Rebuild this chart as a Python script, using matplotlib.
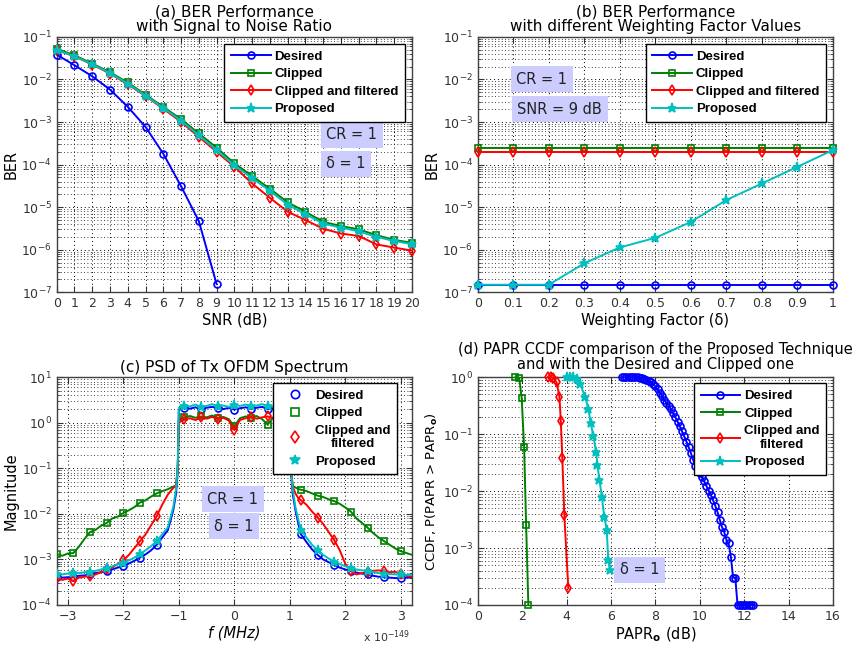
import numpy as np
import matplotlib
matplotlib.use("Agg")
import matplotlib.pyplot as plt
from matplotlib.lines import Line2D
from matplotlib.ticker import LogLocator, NullFormatter

plt.rcParams['font.family'] = ['DejaVu Sans']
plt.rcParams['mathtext.fontset'] = 'dejavusans'

# ---------------- data ----------------
# (a) BER vs SNR
snr = list(range(0, 21))
ber_desired = [3.85e-2, 2.16e-2, 1.19e-2, 5.8e-3, 2.28e-3, 7.7e-4, 1.8e-4, 3.1e-5, 4.7e-6, 1.56e-7]
ber_clipped = [5.3e-2, 3.7e-2, 2.37e-2, 1.48e-2, 8.5e-3, 4.4e-3, 2.27e-3, 1.17e-3, 5.4e-4, 2.5e-4,
               1.07e-4, 5.4e-5, 2.7e-5, 1.3e-5, 7.8e-6, 4.5e-6, 3.6e-6, 3.0e-6, 2.2e-6, 1.7e-6, 1.45e-6]
ber_cf = [4.9e-2, 3.5e-2, 2.25e-2, 1.38e-2, 7.7e-3, 4.1e-3, 2.05e-3, 1.01e-3, 4.5e-4, 2.0e-4,
          8.9e-5, 3.6e-5, 1.66e-5, 7.8e-6, 5.0e-6, 3.1e-6, 2.4e-6, 2.1e-6, 1.33e-6, 1.12e-6, 9.5e-7]
ber_prop = [5.0e-2, 3.5e-2, 2.28e-2, 1.42e-2, 8.0e-3, 4.2e-3, 2.15e-3, 1.08e-3, 4.9e-4, 2.2e-4,
            9.6e-5, 4.8e-5, 2.4e-5, 1.15e-5, 6.8e-6, 4.1e-6, 3.3e-6, 2.7e-6, 2.0e-6, 1.6e-6, 1.35e-6]

# (b) BER vs weighting factor
wf = [0, 0.1, 0.2, 0.3, 0.4, 0.5, 0.6, 0.7, 0.8, 0.9, 1.0]
wf_labels = ['0', '0.1', '0.2', '0.3', '0.4', '0.5', '0.6', '0.7', '0.8', '0.9', '1']
wf_desired = [1.5e-7] * 11
wf_clipped = [2.5e-4] * 11
wf_cf = [2.0e-4] * 11
wf_prop = [1.5e-7, 1.5e-7, 1.5e-7, 4.8e-7, 1.13e-6, 1.9e-6, 4.5e-6, 1.47e-5, 3.6e-5, 8.9e-5, 2.2e-4]

# (c) PSD (log10 magnitude)
psd_f = [-3.2, -3.1, -3.0, -2.9, -2.8, -2.7, -2.6, -2.5, -2.4, -2.3, -2.2, -2.1, -2.0, -1.9, -1.8,
         -1.7, -1.6, -1.5, -1.4, -1.3, -1.2,
         -1.15, -1.1, -1.05, -1.02,
         -1.0, -0.9, -0.8, -0.7, -0.6, -0.5, -0.4, -0.3, -0.2, -0.1, 0.0, 0.1, 0.2, 0.3, 0.4, 0.5,
         0.6, 0.7, 0.8, 0.9, 1.0,
         1.02, 1.05, 1.1, 1.15,
         1.2, 1.3, 1.4, 1.5, 1.6, 1.7, 1.8, 1.9, 2.0, 2.1, 2.2, 2.3, 2.4, 2.5, 2.6, 2.7, 2.8, 2.9,
         3.0, 3.1, 3.2]
psd_desired = [-3.38, -3.40, -3.39, -3.38, -3.36, -3.35, -3.33, -3.30, -3.28, -3.25, -3.22, -3.18,
               -3.14, -3.09, -3.03, -2.96, -2.89, -2.80, -2.68, -2.52, -2.36,
               -2.15, -1.92, -1.55, -1.05,
               0.28, 0.33, 0.31, 0.34, 0.30, 0.33, 0.35, 0.32, 0.30, 0.33, 0.29, 0.32, 0.34, 0.31,
               0.33, 0.35, 0.30, 0.32, 0.28, 0.25, 0.22,
               -1.05, -1.55, -1.92, -2.20,
               -2.45, -2.62, -2.78, -2.90, -3.00, -3.06, -3.12, -3.18, -3.22, -3.26, -3.29, -3.31,
               -3.33, -3.36, -3.38, -3.39, -3.40, -3.41, -3.40, -3.40, -3.39]
psd_clipped = [-2.88, -2.92, -2.87, -2.86, -2.72, -2.55, -2.40, -2.35, -2.26, -2.20, -2.10, -2.06,
               -1.98, -1.92, -1.85, -1.75, -1.70, -1.62, -1.55, -1.50, -1.46,
               -1.43, -1.40, -1.38, -1.00,
               0.05, 0.12, 0.15, 0.11, 0.14, 0.12, 0.16, 0.10, 0.13, 0.08, -0.08, 0.10, 0.14, 0.11,
               0.15, 0.08, -0.04, 0.12, 0.10, 0.06, 0.02,
               -1.00, -1.38, -1.42, -1.45,
               -1.47, -1.50, -1.55, -1.60, -1.63, -1.68, -1.72, -1.78, -1.86, -1.95, -2.10, -2.20,
               -2.30, -2.42, -2.52, -2.60, -2.68, -2.76, -2.82, -2.86, -2.90]
psd_cf = [-3.40, -3.45, -3.42, -3.47, -3.40, -3.38, -3.36, -3.33, -3.28, -3.22, -3.18, -3.10,
          -3.02, -2.90, -2.75, -2.60, -2.45, -2.25, -2.05, -1.80, -1.58,
          -1.50, -1.43, -1.38, -1.00,
          0.00, 0.08, 0.10, 0.06, 0.12, 0.09, 0.13, 0.08, 0.11, 0.05, -0.16, 0.06, 0.10, 0.13,
          0.09, 0.12, 0.14, 0.10, 0.08, 0.03, 0.00,
          -1.00, -1.40, -1.55, -1.65,
          -1.70, -1.80, -1.95, -2.08, -2.22, -2.40, -2.58, -2.80, -3.10, -3.25, -3.33, -3.30,
          -3.28, -3.25, -3.24, -3.26, -3.28, -3.27, -3.32, -3.36, -3.38]
psd_prop = [-3.32, -3.33, -3.31, -3.30, -3.30, -3.28, -3.27, -3.25, -3.22, -3.19, -3.15, -3.11,
            -3.07, -3.02, -2.96, -2.88, -2.80, -2.71, -2.60, -2.45, -2.30,
            -2.08, -1.85, -1.45, -0.95,
            0.33, 0.38, 0.36, 0.40, 0.35, 0.37, 0.41, 0.36, 0.38, 0.35, 0.39, 0.37, 0.40, 0.36,
            0.38, 0.41, 0.37, 0.35, 0.33, 0.30, 0.26,
            -0.95, -1.45, -1.85, -2.12,
            -2.35, -2.52, -2.68, -2.80, -2.90, -2.98, -3.05, -3.10, -3.15, -3.19, -3.22, -3.24,
            -3.26, -3.28, -3.30, -3.31, -3.32, -3.33, -3.33, -3.34, -3.34]
psd_marks = list(range(0, 21, 3)) + list(range(26, 45, 3)) + list(range(50, 71, 3))

# (d) PAPR CCDF (log10 probability)
papr_desired_x = [6.5, 6.6, 6.7, 6.8, 6.9, 7.0, 7.1, 7.2, 7.3, 7.4, 7.5, 7.6, 7.7, 7.8, 7.9,
                  8.0, 8.1, 8.2, 8.3, 8.4, 8.5, 8.6, 8.7, 8.8, 8.9, 9.0, 9.1, 9.2, 9.3, 9.4,
                  9.5, 9.6, 9.7, 9.8, 9.9, 10.0, 10.1, 10.2, 10.3, 10.4, 10.5, 10.6, 10.7, 10.8,
                  10.9, 11.0, 11.1, 11.2, 11.3, 11.4, 11.5, 11.6, 11.7, 11.8, 11.9, 12.0, 12.1,
                  12.2, 12.3, 12.4]
papr_desired_y = [0, 0, 0, 0, 0, 0, 0, 0, -0.01, -0.015, -0.025, -0.04, -0.06, -0.09, -0.12,
                  -0.16, -0.21, -0.27, -0.33, -0.40, -0.45, -0.50, -0.56, -0.63, -0.70, -0.78,
                  -0.86, -0.95, -1.04, -1.13, -1.23, -1.33, -1.45, -1.55, -1.62, -1.69, -1.76,
                  -1.83, -1.91, -1.99, -2.07, -2.16, -2.26, -2.37, -2.50, -2.63, -2.72, -2.86,
                  -2.92, -3.15, -3.52, -3.52, -4.0, -4.0, -4.0, -4.0, -4.0, -4.0, -4.0, -4.0]
papr_clipped_x = [1.70, 1.87, 1.98, 2.09, 2.18, 2.28]
papr_clipped_y = [0, -0.01, -0.37, -1.23, -2.60, -4.0]
papr_cf_x = [3.18, 3.30, 3.40, 3.55, 3.68, 3.74, 3.81, 3.90, 4.08]
papr_cf_y = [0, 0, -0.01, -0.09, -0.34, -0.76, -1.42, -2.42, -3.71]
papr_prop_x = [4.0, 4.15, 4.3, 4.45, 4.61, 4.83, 4.98, 5.09, 5.21, 5.33, 5.39, 5.48, 5.59, 5.70,
               5.81, 5.88, 5.96]
papr_prop_y = [0, 0, 0, -0.03, -0.11, -0.34, -0.55, -0.81, -1.04, -1.31, -1.54, -1.80, -2.10,
               -2.45, -2.68, -3.21, -3.39]

labels = ['Desired', 'Clipped', 'Clipped and filtered', 'Proposed']
labels_c = ['Desired', 'Clipped', 'Clipped and\nfiltered', 'Proposed']

# ---------------- style ----------------
C_BLUE = '#0000ff'
C_GREEN = '#008000'
C_RED = '#ff0000'
C_CYAN = '#00bfbf'
colors = [C_BLUE, C_GREEN, C_RED, C_CYAN]
markers = ['o', 's', 'd', '*']
BOXC = '#ccccff'
TICKC = '#333333'
MS = {'o': 5, 's': 5, 'd': 5.5, '*': 6.5}
TFS = 11
LFS = 10.5

fig = plt.figure(figsize=(8.67, 6.48), dpi=100)
ax_a = fig.add_axes([0.0654, 0.549, 0.4098, 0.394])
ax_b = fig.add_axes([0.551, 0.549, 0.4098, 0.394])
ax_c = fig.add_axes([0.0654, 0.0664, 0.4098, 0.3514])
ax_d = fig.add_axes([0.551, 0.0664, 0.4098, 0.3514])


def style_axes(ax, ylo, yhi):
    ax.set_yscale('log')
    ax.set_ylim(ylo, yhi)
    ax.yaxis.set_major_locator(LogLocator(base=10, numticks=20))
    ax.yaxis.set_minor_locator(LogLocator(base=10, subs=np.arange(2, 10), numticks=100))
    ax.yaxis.set_minor_formatter(NullFormatter())
    ax.grid(True, which='major', axis='both', linestyle=(0, (1, 3)), color='black', linewidth=0.7)
    ax.grid(True, which='minor', axis='y', linestyle=(0, (1, 3)), color='black', linewidth=0.6)
    ax.tick_params(which='both', direction='in', top=True, right=True, colors=TICKC,
                   labelsize=9, labelcolor=TICKC)
    ax.tick_params(which='major', length=4)
    ax.tick_params(which='minor', length=2)
    for s in ax.spines.values():
        s.set_color('#404040')
        s.set_linewidth(1.0)


def textbox(ax, x, y, s):
    ax.text(x, y, s, transform=ax.transAxes, ha='center', va='center', fontsize=10.5,
            color='#222222', bbox=dict(facecolor=BOXC, edgecolor='none', pad=4), zorder=6)


def make_legend(ax, handles, labs, x, y, hl=3.0):
    leg = ax.legend(handles, labs, loc='upper left', bbox_to_anchor=(x, y),
                    prop={'family': 'Liberation Sans', 'weight': 'bold', 'size': 9.5},
                    handlelength=hl, handletextpad=0.3,
                    labelspacing=0.4, borderpad=0.5, fancybox=False, framealpha=1,
                    edgecolor='black', borderaxespad=0)
    leg.get_frame().set_linewidth(1.0)
    for t in leg.get_texts():
        t.set_multialignment('center')
    leg.set_zorder(7)
    return leg


def line_kw(c, m):
    return dict(color=c, marker=m, markersize=MS[m],
                markerfacecolor='none' if m != '*' else c, markeredgewidth=1.2)


# ---------------- (a) ----------------
style_axes(ax_a, 1e-7, 1e-1)
series_a = [ber_desired, ber_clipped, ber_cf, ber_prop]
hs = []
for vals, c, m in zip(series_a, colors, markers):
    h, = ax_a.plot(snr[:len(vals)], vals, linewidth=1.4, clip_on=False, zorder=3, **line_kw(c, m))
    hs.append(h)
ax_a.set_xlim(0, 20)
ax_a.set_xticks(snr)
ax_a.set_title('(a) BER Performance\nwith Signal to Noise Ratio', fontsize=TFS, linespacing=1.0, pad=4)
ax_a.set_xlabel('SNR (dB)', fontsize=LFS, labelpad=2)
ax_a.set_ylabel('BER', fontsize=LFS, labelpad=2)
make_legend(ax_a, hs, labels, 0.472, 0.973)
textbox(ax_a, 0.83, 0.617, 'CR = 1')
textbox(ax_a, 0.814, 0.503, 'δ = 1')

# ---------------- (b) ----------------
style_axes(ax_b, 1e-7, 1e-1)
series_b = [wf_desired, wf_clipped, wf_cf, wf_prop]
hs = []
for vals, c, m in zip(series_b, colors, markers):
    h, = ax_b.plot(wf, vals, linewidth=1.4, clip_on=False, zorder=3, **line_kw(c, m))
    hs.append(h)
ax_b.set_xlim(0, 1)
ax_b.set_xticks(wf)
ax_b.set_xticklabels(wf_labels)
ax_b.set_title('(b) BER Performance\nwith different Weighting Factor Values', fontsize=TFS,
               linespacing=1.0, pad=4)
ax_b.set_xlabel('Weighting Factor (δ)', fontsize=LFS, labelpad=2)
ax_b.set_ylabel('BER', fontsize=LFS, labelpad=2)
make_legend(ax_b, hs, labels, 0.473, 0.973)
textbox(ax_b, 0.18, 0.834, 'CR = 1')
textbox(ax_b, 0.231, 0.717, 'SNR = 9 dB')

# ---------------- (c) ----------------
style_axes(ax_c, 1e-4, 1e1)
series_c = [psd_desired, psd_clipped, psd_cf, psd_prop]
hs = []
for vals, c, m in zip(series_c, colors, markers):
    yv = [10 ** v for v in vals]
    ax_c.plot(psd_f, yv, linewidth=1.4, markevery=psd_marks, zorder=3, **line_kw(c, m))
    kw = line_kw(c, m)
    kw['markersize'] = MS[m] + 1
    hs.append(Line2D([], [], linestyle='none', **kw))
ax_c.set_xlim(-3.2, 3.2)
ax_c.set_xticks([-3, -2, -1, 0, 1, 2, 3])
ax_c.set_title('(c) PSD of Tx OFDM Spectrum', fontsize=TFS, pad=4)
ax_c.set_xlabel('f (MHz)', fontsize=LFS, style='italic', labelpad=2)
ax_c.set_ylabel('Magnitude', fontsize=LFS, labelpad=2)
make_legend(ax_c, hs, labels_c, 0.608, 0.975, hl=2.4)
ax_c.text(0.995, -0.14, r'x 10$^{-149}$', transform=ax_c.transAxes, ha='right', va='center',
          fontsize=8, color=TICKC)
textbox(ax_c, 0.496, 0.464, 'CR = 1')
textbox(ax_c, 0.499, 0.346, 'δ = 1')

# ---------------- (d) ----------------
style_axes(ax_d, 1e-4, 1e0)
series_d = [(papr_desired_x, papr_desired_y), (papr_clipped_x, papr_clipped_y),
            (papr_cf_x, papr_cf_y), (papr_prop_x, papr_prop_y)]
hs = []
for (xv, lv), c, m in zip(series_d, colors, markers):
    yv = [10 ** v for v in lv]
    h, = ax_d.plot(xv, yv, linewidth=1.4, clip_on=False, zorder=3, **line_kw(c, m))
    hs.append(h)
ax_d.set_xlim(0, 16)
ax_d.set_xticks(list(range(0, 17, 2)))
ax_d.set_title('(d) PAPR CCDF comparison of the Proposed Technique\nand with the Desired and Clipped one',
               fontsize=10.5, linespacing=1.0, pad=6)
ax_d.set_xlabel(r'PAPR$_\mathbf{o}$ (dB)', fontsize=LFS, labelpad=2)
ax_d.set_ylabel(r'CCDF, P(PAPR > PAPR$_\mathbf{o}$)', fontsize=9.5, labelpad=2)
make_legend(ax_d, hs, labels_c, 0.609, 0.973)
textbox(ax_d, 0.455, 0.154, 'δ = 1')

fig.savefig('out.png', dpi=100, facecolor='white')
